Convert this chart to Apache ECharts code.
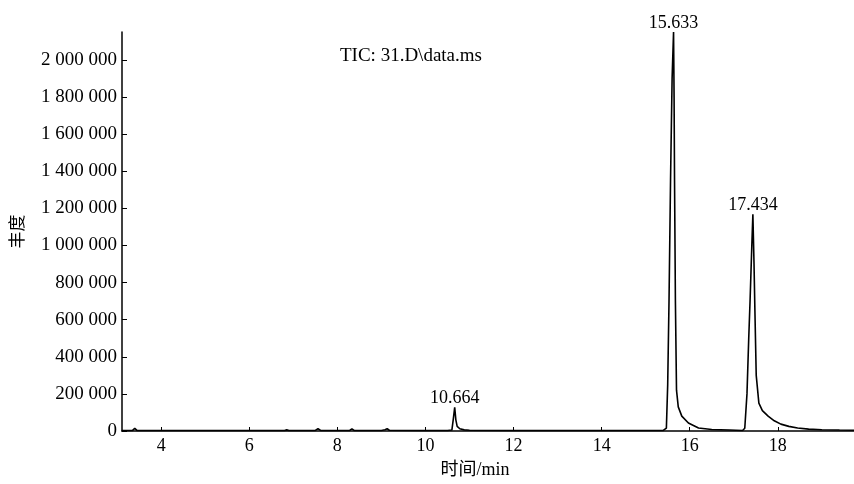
<!DOCTYPE html>
<html>
<head>
<meta charset="utf-8">
<script src="https://cdn.jsdelivr.net/npm/echarts@6/dist/echarts.min.js"></script>
<style>html,body{margin:0;padding:0;background:#fff}#c{width:854px;height:484px}</style>
</head>
<body>
<div id="c"></div>
<script>
// retention time (min)
var times = [
  3.11, 3.35, 3.40, 3.45, 4.0, 5.0, 6.0, 6.8, 6.85, 6.9, 7.5, 7.56, 7.62, 8.0, 8.28, 8.33, 8.38,
  9.0, 9.08, 9.13, 9.18, 9.9, 10.5, 10.60, 10.63, 10.664, 10.69, 10.72, 10.78, 10.88, 11.0,
  12.0, 13.0, 14.0, 15.0, 15.40, 15.47, 15.50, 15.53, 15.565, 15.60, 15.633, 15.645, 15.655,
  15.675, 15.70, 15.74, 15.82, 15.97, 16.2, 16.5, 16.9, 17.20, 17.25, 17.30, 17.34, 17.37,
  17.41, 17.434, 17.46, 17.48, 17.51, 17.57, 17.65, 17.78, 17.92, 18.07, 18.25, 18.45, 18.7,
  19.0, 19.4, 19.73
];
// abundance
var abundance = [
  3000, 3000, 14000, 3000, 3000, 2500, 2500, 3000, 6000, 2500, 3000, 12000, 3000, 3000, 3000, 12000, 3000,
  3000, 7000, 12000, 4000, 3000, 3000, 5000, 60000, 128000, 60000, 25000, 12000, 6000, 4000,
  3000, 2500, 2500, 2500, 3000, 15000, 250000, 700000, 1360000, 1900000, 2150000, 1800000, 1360000,
  700000, 220000, 130000, 80000, 43000, 16000, 8000, 5000, 3000, 15000, 200000, 500000, 700000,
  1000000, 1168000, 900000, 650000, 300000, 150000, 110000, 80000, 55000, 37000, 25000, 16000, 10000,
  7000, 5000, 4000
];
var peakTimes = [10.664, 15.633, 17.434];
var peakHeights = [128000, 2150000, 1168000];
var peakLabels = ['10.664', '15.633', '17.434'];
var xTicks = [4, 6, 8, 10, 12, 14, 16, 18];
var yTicks = [0, 200000, 400000, 600000, 800000, 1000000, 1200000, 1400000, 1600000, 1800000, 2000000];
var titleText = 'TIC: 31.D\\data.ms';
var xName = '时间/min';
var yName = '丰度';

var font = '"Liberation Serif", "Times New Roman", "Noto Sans CJK SC", serif';
var chart = echarts.init(document.getElementById('c'));
var lineData = times.map(function (t, i) { return [t, abundance[i]]; });
var peakData = peakTimes.map(function (t, i) { return [t, peakHeights[i]]; });
chart.setOption({
  animation: false,
  backgroundColor: '#fff',
  grid: { left: 122, right: 0, top: 32, bottom: 49 },
  xAxis: {
    type: 'value', min: 3.11, max: 19.73,
    name: xName, nameLocation: 'middle', nameGap: 30,
    nameTextStyle: { fontFamily: font, fontSize: 18, color: '#000', padding: [0, 26, 0, 0] },
    axisLine: { lineStyle: { color: '#000', width: 1.5 } },
    axisTick: { inside: true, length: 4, customValues: xTicks, lineStyle: { color: '#000' } },
    axisLabel: { customValues: xTicks, margin: 6, fontFamily: font, fontSize: 18, color: '#000' },
    splitLine: { show: false }
  },
  yAxis: {
    type: 'value', min: 0, max: 2150000,
    name: yName, nameLocation: 'middle', nameRotate: 90, nameGap: 95,
    nameTextStyle: { fontFamily: font, fontSize: 17, color: '#000' },
    axisLine: { show: true, lineStyle: { color: '#000', width: 1.5 } },
    axisTick: { show: true, inside: true, length: 5, customValues: yTicks, lineStyle: { color: '#000' } },
    axisLabel: {
      customValues: yTicks, margin: 5, fontFamily: font, fontSize: 19, color: '#000',
      formatter: function (v) { return String(v).replace(/\B(?=(\d{3})+(?!\d))/g, ' '); }
    },
    splitLine: { show: false }
  },
  graphic: [{
    type: 'text', left: 340, top: 47,
    style: { text: titleText, font: '19px ' + font, fill: '#000' }
  }],
  series: [{
    type: 'line', data: lineData, showSymbol: false, symbol: 'none',
    lineStyle: { color: '#000', width: 1.6 }, z: 3
  }, {
    type: 'scatter', data: peakData, symbolSize: 0.1,
    itemStyle: { opacity: 1, color: '#000' },
    label: {
      show: true, position: 'top', distance: 0, fontFamily: font, fontSize: 18, color: '#000', opacity: 1,
      formatter: function (p) { return peakLabels[p.dataIndex]; }
    }
  }]
});
</script>
</body>
</html>
